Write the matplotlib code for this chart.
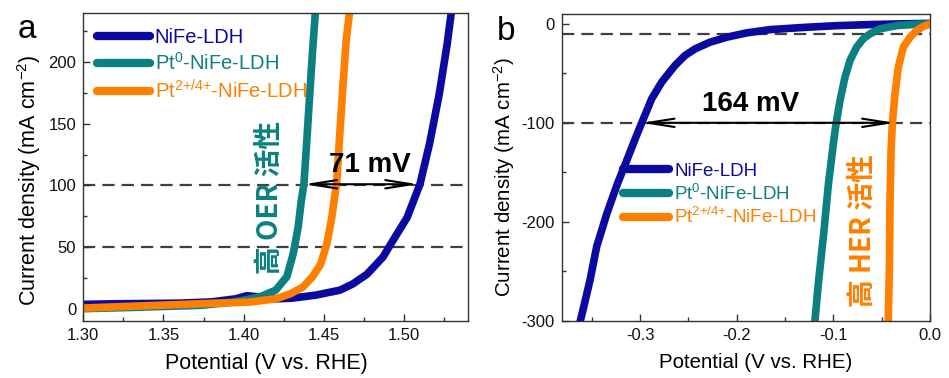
import matplotlib
matplotlib.use("Agg")
import matplotlib.pyplot as plt
from matplotlib.ticker import MultipleLocator, FormatStrFormatter

plt.rcParams['font.family'] = ['Liberation Sans', 'DejaVu Sans']
plt.rcParams['mathtext.fontset'] = 'custom'
plt.rcParams['mathtext.rm'] = 'Liberation Sans'
plt.rcParams['mathtext.it'] = 'Liberation Sans:italic'
plt.rcParams['mathtext.bf'] = 'Liberation Sans:bold'

# ---------------- data ----------------
labels = ['NiFe-LDH', 'Pt$^{0}$-NiFe-LDH', 'Pt$^{2{+}/4{+}}$-NiFe-LDH']
colors = ['#0a0aa0', '#0c8080', '#ff8000']

# Panel a: OER polarization curves
oer_nife_x = [1.300, 1.320, 1.340, 1.360, 1.380, 1.395, 1.402, 1.410, 1.420, 1.430, 1.445,
              1.460, 1.468, 1.477, 1.487, 1.493, 1.502, 1.510, 1.516, 1.522, 1.527, 1.530]
oer_nife_y = [3.5, 4.0, 4.2, 4.5, 5.5, 8.0, 10.5, 9.5, 8.0, 8.5, 11.0,
              15.0, 20.0, 28.0, 42.0, 55.0, 74.0, 101.0, 134.0, 174.0, 215.0, 245.0]
oer_pt0_x = [1.300, 1.330, 1.373, 1.394, 1.410, 1.420, 1.427, 1.431, 1.434, 1.436, 1.4376,
             1.439, 1.441, 1.443, 1.445]
oer_pt0_y = [0.0, 1.0, 2.7, 5.4, 9.5, 15.0, 26.0, 45.0, 66.0, 88.0, 101.0,
             128.0, 169.0, 209.0, 245.0]
oer_pt24_x = [1.300, 1.331, 1.373, 1.404, 1.420, 1.429, 1.437, 1.443, 1.448, 1.452, 1.455,
              1.457, 1.458, 1.460, 1.462, 1.464, 1.4665]
oer_pt24_y = [0.5, 2.0, 4.0, 5.4, 8.0, 12.0, 17.6, 26.0, 36.0, 53.0, 74.0,
              93.0, 101.0, 142.0, 182.0, 218.0, 245.0]

# Panel b: HER polarization curves
her_nife_x = [-0.363, -0.3597, -0.3517, -0.3448, -0.3344, -0.3235, -0.3125, -0.3045, -0.2982,
              -0.2879, -0.2776, -0.2638, -0.2535, -0.2431, -0.2276, -0.2104, -0.1897, -0.1656,
              -0.131, -0.0966, -0.062, -0.030, 0.0]
her_nife_y = [-305.0, -292.0, -259.0, -225.0, -192.0, -162.0, -135.0, -115.0, -100.0,
              -75.7, -58.9, -42.0, -32.0, -25.3, -18.5, -13.5, -9.1, -5.8,
              -3.6, -1.8, -0.7, 0.0, 0.5]
her_pt0_x = [-0.1195, -0.1155, -0.110, -0.105, -0.100, -0.0972, -0.093, -0.088, -0.0828,
             -0.0759, -0.069, -0.062, -0.0517, -0.034, -0.015, 0.0]
her_pt0_y = [-305.0, -262.0, -212.0, -161.0, -121.0, -101.0, -77.0, -54.0, -37.0,
             -23.5, -15.0, -10.0, -5.0, -1.7, -0.5, 0.0]
her_pt24_x = [-0.0433, -0.042, -0.0414, -0.0403, -0.039, -0.0362, -0.0328, -0.0276, -0.0207,
              -0.0138, -0.0069, 0.0]
her_pt24_y = [-305.0, -245.0, -178.0, -128.0, -101.0, -70.6, -43.7, -23.5, -13.5,
              -6.7, -2.7, 0.0]

oer_ref_lines = [100, 50]
her_ref_lines = [-10, -100]
oer_arrow = (1.4376, 1.509, 101)
her_arrow = (-0.2985, -0.036, -100)

# ---------------- figure ----------------
fig = plt.figure(figsize=(9.49, 3.78), dpi=100)
axa = fig.add_axes([0.0878, 0.1508, 0.4054, 0.8148])
axb = fig.add_axes([0.5919, 0.1516, 0.3881, 0.8114])

LW = 5.5
spine_c = '#333333'
dash = (0, (5.5, 3.2))

def style(ax):
    for s in ax.spines.values():
        s.set_color(spine_c)
        s.set_linewidth(1.0)
    ax.tick_params(which='both', direction='in', top=False, right=False,
                   color=spine_c, labelsize=12, pad=5, labelcolor='#111111')
    ax.tick_params(which='major', length=5, width=1.0)
    ax.tick_params(which='minor', length=3, width=1.0)

# ---- panel a ----
axa.plot(oer_nife_x, oer_nife_y, color=colors[0], lw=LW, solid_capstyle='round', label=labels[0])
axa.plot(oer_pt0_x, oer_pt0_y, color=colors[1], lw=LW, solid_capstyle='round', label=labels[1])
axa.plot(oer_pt24_x, oer_pt24_y, color=colors[2], lw=LW, solid_capstyle='round', label=labels[2])
for yv in oer_ref_lines:
    axa.axhline(yv, color='#404040', lw=1.6, ls=dash, zorder=1)
axa.set_xlim(1.30, 1.54)
axa.set_ylim(-10, 240)
axa.xaxis.set_major_locator(MultipleLocator(0.05))
axa.xaxis.set_minor_locator(MultipleLocator(0.025))
axa.xaxis.set_major_formatter(FormatStrFormatter('%.2f'))
axa.yaxis.set_major_locator(MultipleLocator(50))
axa.yaxis.set_minor_locator(MultipleLocator(25))
style(axa)
axa.annotate('', xy=(oer_arrow[0], oer_arrow[2]), xytext=(oer_arrow[1], oer_arrow[2]),
             arrowprops=dict(arrowstyle='<->,head_length=1.9,head_width=0.3', lw=1.5,
                             color='black', shrinkA=0, shrinkB=0), zorder=5)
axa.text(1.4785, 106, '71 mV', fontsize=20, fontweight='bold', ha='center', va='bottom', zorder=6)
axa.text(1.4165, 90, '高 OER 活性', rotation=90, fontsize=20, fontweight='bold',
         family=['Noto Sans CJK SC'], color=colors[1], ha='center', va='center')
lega = axa.legend(loc='upper left', bbox_to_anchor=(0.005, 0.99), frameon=False, fontsize=14.5,
                  handlelength=2.6, handletextpad=0.25, labelspacing=0.25, borderaxespad=0.2,
                  labelcolor='linecolor')
for h in lega.get_lines():
    h.set_linewidth(6)
    h.set_solid_capstyle('round')

# ---- panel b ----
axb.plot(her_nife_x, her_nife_y, color=colors[0], lw=LW, solid_capstyle='round', label=labels[0])
axb.plot(her_pt0_x, her_pt0_y, color=colors[1], lw=LW, solid_capstyle='round', label=labels[1])
axb.plot(her_pt24_x, her_pt24_y, color=colors[2], lw=LW, solid_capstyle='round', label=labels[2])
for yv in her_ref_lines:
    axb.axhline(yv, color='#404040', lw=1.6, ls=dash, zorder=1)
axb.set_xlim(-0.381, 0.0)
axb.set_ylim(-300, 10)
axb.xaxis.set_major_locator(MultipleLocator(0.1))
axb.xaxis.set_minor_locator(MultipleLocator(0.05))
axb.xaxis.set_major_formatter(FormatStrFormatter('%.1f'))
axb.yaxis.set_major_locator(MultipleLocator(100))
axb.yaxis.set_minor_locator(MultipleLocator(50))
axb.yaxis.set_major_formatter(FormatStrFormatter('%d'))
style(axb)
axb.annotate('', xy=(her_arrow[0], her_arrow[2]), xytext=(her_arrow[1], her_arrow[2]),
             arrowprops=dict(arrowstyle='<->,head_length=1.9,head_width=0.3', lw=1.5,
                             color='black', shrinkA=0, shrinkB=0), zorder=5)
axb.text(-0.1855, -94, '164 mV', fontsize=20, fontweight='bold', ha='center', va='bottom', zorder=6)
axb.text(-0.0694, -208.6, '高 HER 活性', rotation=90, fontsize=20, fontweight='bold',
         family=['Noto Sans CJK SC'], color=colors[2], ha='center', va='center')
legb = axb.legend(loc='upper left', bbox_to_anchor=(0.145, 0.54), frameon=False, fontsize=13.5,
                  handlelength=2.5, handletextpad=0.25, labelspacing=0.2, borderaxespad=0.0,
                  labelcolor='linecolor')
for h in legb.get_lines():
    h.set_linewidth(6)
    h.set_solid_capstyle('round')

# ---- labels ----
fig.text(266 / 949, 1 - 363 / 378, 'Potential (V vs. RHE)', fontsize=15.5, ha='center', va='center')
fig.text(756 / 949, 1 - 362 / 378, 'Potential (V vs. RHE)', fontsize=14.8, ha='center', va='center')
fig.text(29 / 949, 1 - 180 / 378, 'Current density (mA cm$^{-2}$)', fontsize=15.5,
         rotation=90, ha='center', va='center')
fig.text(504 / 949, 1 - 177 / 378, 'Current density (mA cm$^{-2}$)', fontsize=14.8,
         rotation=90, ha='center', va='center')
fig.text(27 / 949, 1 - 30 / 378, 'a', fontsize=24, ha='center', va='center')
fig.text(506 / 949, 1 - 31 / 378, 'b', fontsize=24, ha='center', va='center')

fig.savefig('out.png', dpi=100)
